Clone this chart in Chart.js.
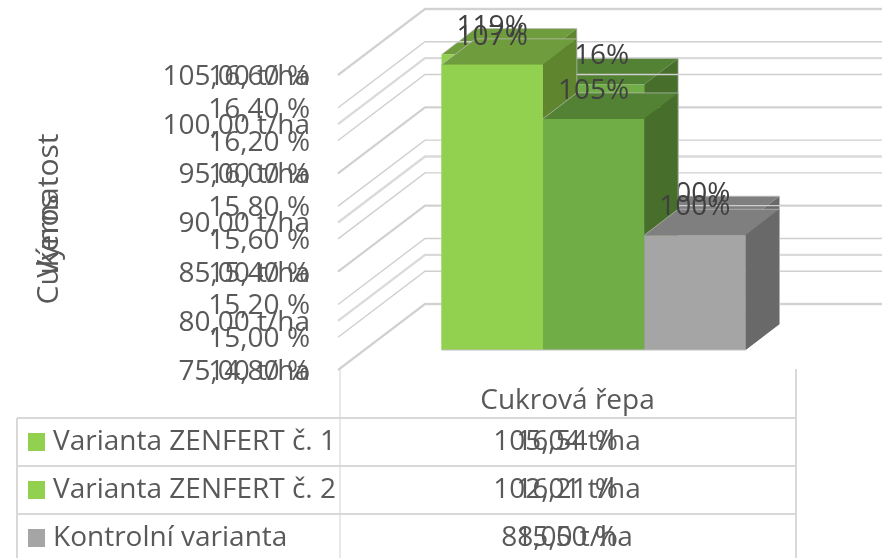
<!DOCTYPE html>
<html><head><meta charset="utf-8">
<script src="https://cdn.jsdelivr.net/npm/chart.js@4"></script>
<style>html,body{margin:0;padding:0;background:#fff}canvas{display:block}</style>
</head><body><canvas id="c" width="889" height="558"></canvas>
<script>
const categories = ['Cukrová řepa'];
const seriesNames = ['Varianta ZENFERT č. 1', 'Varianta ZENFERT č. 2', 'Kontrolní varianta'];
const yieldValues = [105.04, 102.01, 88.00];
const sugarValues = [16.54, 16.21, 15.50];
const yieldLabels = ['119%', '116%', '100%'];
const sugarLabels = ['107%', '105%', '100%'];
const yieldTableText = ['105,04 t/ha', '102,01 t/ha', '88,00 t/ha'];
const sugarTableText = ['16,54 %', '16,21 %', '15,50 %'];
const yieldTicks = [75, 80, 85, 90, 95, 100, 105];
const yieldTickLabels = ['75,00 t/ha', '80,00 t/ha', '85,00 t/ha', '90,00 t/ha', '95,00 t/ha', '100,00 t/ha', '105,00 t/ha'];
const sugarTicks = [14.8, 15.0, 15.2, 15.4, 15.6, 15.8, 16.0, 16.2, 16.4, 16.6];
const sugarTickLabels = ['14,80 %', '15,00 %', '15,20 %', '15,40 %', '15,60 %', '15,80 %', '16,00 %', '16,20 %', '16,40 %', '16,60 %'];
const frontColors = ['#92d050', '#70ad47', '#a5a5a5'];
const topColors = ['#6f9c3c', '#548235', '#7f7f7f'];
const sideColors = ['#5f852f', '#476f2b', '#696969'];
const keyColors = ['#92d050', '#92d050', '#a5a5a5'];
const stacks = ['a', 'b', 'c'];
const FONT = '"Open Sans"';
const FS = 28;
const DX = 34, DY = -26;

function poly(ctx, pts, color) {
  ctx.fillStyle = color;
  ctx.beginPath();
  pts.forEach((p, i) => i ? ctx.lineTo(p[0], p[1]) : ctx.moveTo(p[0], p[1]));
  ctx.closePath();
  ctx.fill();
}
function gridLines(chart, id, color, width) {
  const ctx = chart.ctx, s = chart.scales[id], a = chart.chartArea;
  ctx.save();
  ctx.strokeStyle = color;
  ctx.lineWidth = width;
  s.ticks.forEach(t => {
    const y = s.getPixelForValue(t.value);
    ctx.beginPath();
    ctx.moveTo(a.left - 28, y + 20);
    ctx.lineTo(a.left + 59, y - 46);
    ctx.lineTo(a.right + 61, y - 46);
    ctx.stroke();
  });
  ctx.restore();
}
function faces(chart, from) {
  const ctx = chart.ctx;
  for (let k = 0; k < 3; k++) {
    const b = chart.getDatasetMeta(from + k).data[0];
    const l = b.x - b.width / 2, r = b.x + b.width / 2;
    poly(ctx, [[l, b.y], [r, b.y], [r + DX, b.y + DY], [l + DX, b.y + DY]], topColors[k]);
    poly(ctx, [[r, b.y], [r + DX, b.y + DY], [r + DX, b.base + DY], [r, b.base]], sideColors[k]);
    ctx.save();
    ctx.strokeStyle = 'rgba(190,190,190,0.7)';
    ctx.lineWidth = 1;
    ctx.beginPath();
    ctx.moveTo(l, b.y);
    ctx.lineTo(l + DX, b.y + DY);
    ctx.lineTo(r + DX, b.y + DY);
    ctx.lineTo(r + DX, b.base + DY);
    ctx.stroke();
    ctx.restore();
  }
}
function baseLine(chart) {
  const ctx = chart.ctx;
  const first = chart.getDatasetMeta(0).data[0], last = chart.getDatasetMeta(2).data[0];
  ctx.save();
  ctx.strokeStyle = '#bfbfbf';
  ctx.lineWidth = 1;
  ctx.beginPath();
  ctx.moveTo(first.x - first.width / 2, first.base);
  ctx.lineTo(last.x + last.width / 2, last.base);
  ctx.stroke();
  ctx.restore();
}
function valueLabels(chart, from, labels) {
  const ctx = chart.ctx;
  ctx.save();
  ctx.font = FS + 'px ' + FONT;
  ctx.fillStyle = '#404040';
  ctx.textAlign = 'center';
  ctx.textBaseline = 'middle';
  labels.forEach((t, k) => {
    const b = chart.getDatasetMeta(from + k).data[0];
    ctx.fillText(t, b.x, b.y - 28);
  });
  ctx.restore();
}
function table(chart) {
  const ctx = chart.ctx;
  ctx.save();
  ctx.strokeStyle = '#d9d9d9';
  ctx.lineWidth = 2;
  const rows = [418, 466, 514];
  ctx.beginPath();
  rows.forEach(y => { ctx.moveTo(17, y); ctx.lineTo(796, y); });
  ctx.moveTo(17, 418); ctx.lineTo(17, 558);
  ctx.moveTo(796, 369); ctx.lineTo(796, 558);
  ctx.stroke();
  ctx.lineWidth = 1.2;
  ctx.beginPath();
  ctx.moveTo(340, 369); ctx.lineTo(340, 558);
  ctx.stroke();
  ctx.font = FS + 'px ' + FONT;
  ctx.textBaseline = 'middle';
  seriesNames.forEach((n, i) => {
    const cy = rows[i] + 24;
    ctx.fillStyle = keyColors[i];
    ctx.fillRect(28, cy - 9, 17, 18);
    ctx.fillStyle = '#595959';
    ctx.textAlign = 'left';
    ctx.fillText(n, 53, cy);
    ctx.textAlign = 'center';
    ctx.fillText(yieldTableText[i], 567, cy);
    ctx.fillText(sugarTableText[i], 567, cy);
  });
  ctx.font = '30px ' + FONT;
  ctx.save();
  ctx.translate(49, 236);
  ctx.rotate(-Math.PI / 2);
  ctx.fillText('Výnos', 0, 0);
  ctx.restore();
  ctx.translate(49, 219);
  ctx.rotate(-Math.PI / 2);
  ctx.fillText('Cukernatost', 0, 0);
  ctx.restore();
}
const bar3d = {
  id: 'bar3d',
  beforeDatasetDraw(chart, args) {
    if (args.index === 5) {
      table(chart);
      gridLines(chart, 'yYield', '#dadada', 2.4);
      faces(chart, 3);
    } else if (args.index === 2) {
      valueLabels(chart, 3, yieldLabels);
      gridLines(chart, 'ySugar', '#cfcfcf', 1.4);
      faces(chart, 0);
    }
  },
  afterDatasetsDraw(chart) {
    baseLine(chart);
    valueLabels(chart, 0, sugarLabels);
  }
};
function ds(values, i, axis, order, base) {
  return {
    label: seriesNames[i], data: values.slice(i, i + 1), yAxisID: axis, stack: stacks[i], order, base,
    backgroundColor: frontColors[i], borderWidth: 0, clip: false,
    barPercentage: 1, categoryPercentage: 0.668
  };
}
function yAxis(ticks, labels) {
  return {
    position: { x: -0.623 }, min: ticks[0], max: ticks[ticks.length - 1], stacked: false,
    grid: { display: false, drawTicks: false }, border: { display: false },
    afterBuildTicks(a) { a.ticks = ticks.map(v => ({ value: v })); },
    afterFit(a) { a.paddingTop = 0; a.paddingBottom = 0; },
    ticks: {
      autoSkip: false, labelOffset: 22, color: '#595959', maxRotation: 0,
      font: { family: FONT, size: FS },
      callback: (v, i) => labels[i]
    }
  };
}
new Chart(document.getElementById('c'), {
  type: 'bar',
  plugins: [bar3d],
  data: {
    labels: categories,
    datasets: [0, 1, 2].map(i => ds(sugarValues, i, 'ySugar', 0, sugarTicks[0]))
      .concat([0, 1, 2].map(i => ds(yieldValues, i, 'yYield', 1, yieldTicks[0])))
  },
  options: {
    responsive: false, animation: false, devicePixelRatio: 1,
    layout: { padding: { left: 366, right: 68, top: 55, bottom: 0 } },
    plugins: { legend: { display: false }, tooltip: { enabled: false }, title: { display: false } },
    scales: {
      x: {
        grid: { display: false, drawTicks: false }, border: { display: false },
        afterFit(a) { a.height = 208; a.paddingLeft = 0; a.paddingRight = 0; },
        ticks: { padding: 34, labelOffset: -26, color: '#595959', maxRotation: 0, font: { family: FONT, size: FS } }
      },
      yYield: yAxis(yieldTicks, yieldTickLabels),
      ySugar: yAxis(sugarTicks, sugarTickLabels)
    }
  }
});
</script></body></html>
